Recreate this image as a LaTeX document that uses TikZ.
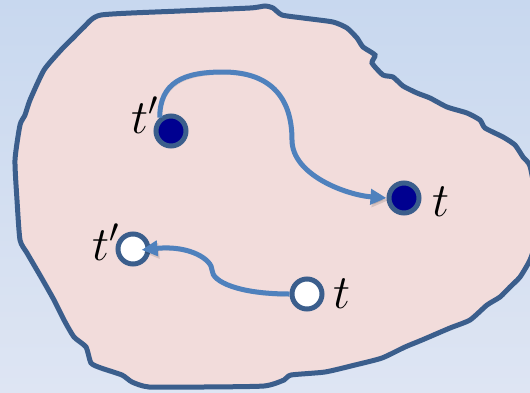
\RequirePackage{fix-cm}
\documentclass[tikz,border=0pt]{standalone}
\usetikzlibrary{arrows.meta,positioning}
\definecolor{bgtop}{HTML}{C8D8EF}
\definecolor{bgbottom}{HTML}{DEE5F3}
\definecolor{blobfill}{HTML}{F2DCDB}
\definecolor{blobline}{HTML}{3B5E8C}
\definecolor{arrowblue}{HTML}{4F81BD}
\definecolor{dotnavy}{HTML}{000090}
\tikzset{
    darkdot/.style={circle, draw=blobline, line width=5pt, fill=dotnavy,
        minimum size=30pt, inner sep=0pt},
    lightdot/.style={darkdot, fill=white},
    tlabel/.style={inner sep=0pt, font=\fontsize{48}{50}\selectfont},
    patharrow/.style={-{Triangle[length=16pt,width=15pt]}, arrowblue, line width=5pt,
        preaction={draw=black, opacity=0.12, transform canvas={shift={(1.5pt,-2.5pt)}}}}
}

\begin{document}
\begin{tikzpicture}[x=1pt, y=-1pt]
\useasboundingbox (0,0) rectangle (530,392);
\clip (0,0) rectangle (530,392);
\shade[top color=bgtop, bottom color=bgbottom] (0,0) rectangle (530,392);
% region
\draw[blobline, line width=5pt, fill=blobfill] plot[smooth cycle, tension=0.35] coordinates {
    (101,15) (180,11) (250,8) (265,6) (273,8) (282,15) (303,18) (333,22)
    (347,28) (357,38) (363,47) (375,55) (372,63) (383,75) (393,77) (403,86)
    (417,93) (430,98) (447,107) (467,113) (480,120) (485,128) (503,137)
    (515,145) (523,157) (530,166) (536,200) (536,240) (530,260) (520,277)
    (510,287) (500,297) (487,305) (470,320) (450,328) (422,340) (405,347)
    (382,358) (355,365) (325,372) (291,375) (284,380) (264,386) (203,387)
    (149,387) (132,382) (122,375) (101,368) (91,363) (86,347) (74,337)
    (64,320) (54,300) (41,277) (27,253) (20,240) (17,200) (15,160) (20,125)
    (25,115) (30,100) (44,70) (61,50) (74,37) (84,27)};
% points
\node[darkdot] (tfa) at (171,131) {};
\node[darkdot] (tfb) at (404,198) {};
\node[lightdot] (twa) at (133,249) {};
\node[lightdot] (twb) at (307,294) {};
\node[tlabel, left=-5pt of tfa, yshift=16pt] (lfa) {$t'$};
\node[tlabel, right=11pt of tfb, yshift=-4pt] (lfb) {$t$};
\node[tlabel, left=-4pt of twa, yshift=7pt] (lwa) {$t'$};
\node[tlabel, right=9pt of twb] (lwb) {$t$};
% paths
\draw[patharrow] (tfa.130) .. controls +(0,-35) and +(-40,0) .. (223,72)
    .. controls +(45,0) and +(0,-45) .. (292,140)
    .. controls +(0,35) and +(-40,-3) .. (tfb.west);
\draw[patharrow, shorten >=-9pt] (twb.west) .. controls +(-50,0) and +(0,12) .. (212,270)
    .. controls +(0,-10) and +(40,-4) .. (twa.east);
\end{tikzpicture}
\end{document}
